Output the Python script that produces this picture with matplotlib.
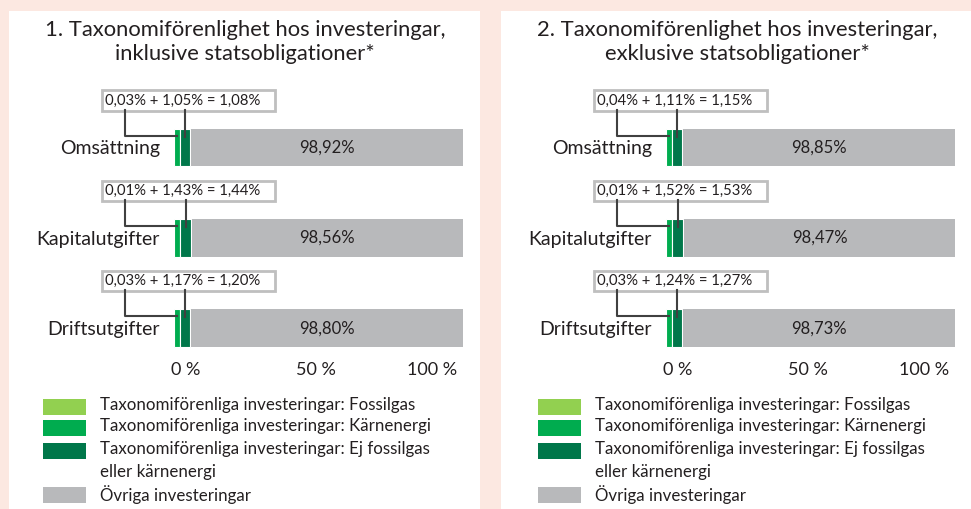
import matplotlib.pyplot as plt
from matplotlib.patches import Rectangle

plt.rcParams['font.family'] = ['Lato', 'DejaVu Sans']

# data
categories = ['Omsättning', 'Kapitalutgifter', 'Driftsutgifter']
titles = ['1. Taxonomiförenlighet hos investeringar,\ninklusive statsobligationer*',
          '2. Taxonomiförenlighet hos investeringar,\nexklusive statsobligationer*']
fossil = [[0.00, 0.00, 0.00], [0.00, 0.00, 0.00]]
nuclear = [[0.03, 0.01, 0.03], [0.04, 0.01, 0.03]]
other_green = [[1.05, 1.43, 1.17], [1.11, 1.52, 1.24]]
total_green = [[1.08, 1.44, 1.20], [1.15, 1.53, 1.27]]
rest = [[98.92, 98.56, 98.80], [98.85, 98.47, 98.73]]
tick_labels = ['0 %', '50 %', '100 %']
legend_labels = ['Taxonomiförenliga investeringar: Fossilgas',
                 'Taxonomiförenliga investeringar: Kärnenergi',
                 'Taxonomiförenliga investeringar: Ej fossilgas\neller kärnenergi',
                 'Övriga investeringar']

c_fossil = '#92d050'
c_nuclear = '#00ac4f'
c_other = '#00774a'
c_rest = '#b8b9bb'
c_text = '#231f20'
bg = '#fce8e1'

W, H = 971, 509


def fx(x):
    return x / W


def fy(y):
    return 1 - y / H


def shown(v):
    # tiny shares are drawn wider so they can be seen
    return 2.3 + 1.1 * v if v > 0 else 0


def pct(v):
    return ('%.2f%%' % v).replace('.', ',')


fig = plt.figure(figsize=(W / 100, H / 100), dpi=100, facecolor=bg)

for p in range(2):
    off = [0, 492][p]
    fig.patches.append(Rectangle((fx(9 + off), 0), fx(471 + [0, 4][p]), fy(11),
                                 transform=fig.transFigure, fc='white', ec='none', zorder=-5))
    fig.text(fx(245 + off), fy(42), titles[p], ha='center', va='center',
             fontsize=15.8, color=c_text, linespacing=1.22)

    ax = fig.add_axes([fx(174 + off), fy(358), fx(300), fy(80) - fy(358)])
    ax.set_facecolor('none')
    ax.set_xlim(0, 300 / 2.75)
    ax.set_ylim(2.33, -0.747)

    for i in range(3):
        fw = shown(fossil[p][i])
        nw = shown(nuclear[p][i])
        ow = shown(other_green[p][i])
        ax.barh(i, fw, left=0, height=0.42, color=c_fossil, edgecolor='white', linewidth=0.8)
        ax.barh(i, nw, left=fw, height=0.42, color=c_nuclear, edgecolor='white', linewidth=0.8)
        ax.barh(i, ow, left=fw + nw, height=0.42, color=c_other, edgecolor='white', linewidth=0.8)
        start = fw + nw + ow + 0.3
        ax.barh(i, rest[p][i], left=start, height=0.42, color=c_rest, edgecolor='none')
        ax.text(start + rest[p][i] / 2, i, pct(rest[p][i]), ha='center', va='center',
                fontsize=12, color=c_text)

        label = '%s + %s = %s   ' % (pct(nuclear[p][i]), pct(other_green[p][i]),
                                     pct(total_green[p][i]))
        ax.text(-25, i - 0.52, label, ha='left', va='center', fontsize=10.7, color=c_text,
                bbox=dict(boxstyle='square,pad=0.22', fc='white', ec='#bfbfbf', lw=2))
        ax.plot([-18, -18, fw + nw / 2], [i - 0.42, i - 0.13, i - 0.13],
                color='#404040', lw=1.5, clip_on=False, zorder=3)
        ax.plot([fw + nw + ow / 2] * 2, [i - 0.42, i - 0.12],
                color='#404040', lw=1.5, clip_on=False, zorder=3)

    ax.set_yticks(range(3), categories)
    ax.set_xticks([4.4, 51.6, 93.8], tick_labels)
    ax.tick_params(length=0, labelsize=13, colors=c_text)
    ax.tick_params(axis='y', pad=10, labelsize=14)
    ax.tick_params(axis='x', pad=3)
    for s in ax.spines.values():
        s.set_visible(False)

    # legend
    lx = 43 + [0, 495][p]
    rows = [407, 428, 451, 495]
    cols = [c_fossil, c_nuclear, c_other, c_rest]
    for r, c, lab in zip(rows, cols, legend_labels):
        fig.patches.append(Rectangle((fx(lx), fy(r + 8)), fx(43), fy(r - 8) - fy(r + 8),
                                     transform=fig.transFigure, fc=c, ec='none'))
        fig.text(fx(lx + 57), fy(r - 10), lab, ha='left', va='top', fontsize=12.2,
                 color=c_text, linespacing=1.5)

fig.savefig('out.png', dpi=100, facecolor=bg)
